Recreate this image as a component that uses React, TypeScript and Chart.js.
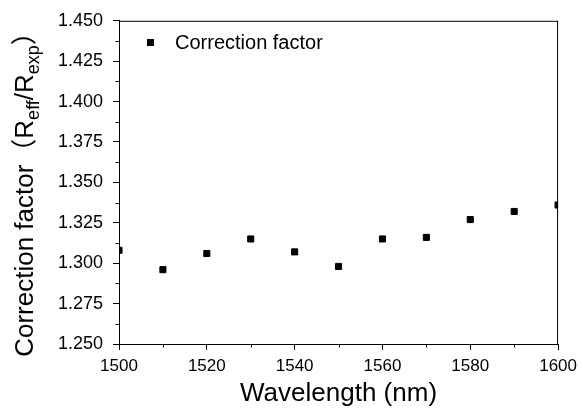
import React, { useEffect, useRef } from "react";
import { Chart, registerables } from "chart.js";

Chart.register(...registerables);

const wavelengths: number[] = [1500, 1510, 1520, 1530, 1540, 1550, 1560, 1570, 1580, 1590, 1600];
const correctionFactor: number[] = [1.308, 1.296, 1.306, 1.315, 1.307, 1.298, 1.315, 1.316, 1.327, 1.332, 1.336];
const seriesLabel = "Correction factor";
const xTitle = "Wavelength (nm)";
const yMinorTicks: number[] = [1.2625, 1.2875, 1.3125, 1.3375, 1.3625, 1.3875, 1.4125, 1.4375];
const xMinorTicks: number[] = [1510, 1530, 1550, 1570, 1590];

const FONT = '"Liberation Sans", Arial, "Noto Sans CJK SC", sans-serif';

const framePlugin = {
  id: "frameAndMinor",
  afterDraw(chart: any) {
    const { ctx, chartArea } = chart;
    const { left, right, top, bottom } = chartArea;
    const xs = chart.scales.x;
    const ys = chart.scales.y;
    ctx.save();
    ctx.strokeStyle = "#000";
    ctx.lineWidth = 1;
    ctx.beginPath();
    ctx.moveTo(left, top + 0.5);
    ctx.lineTo(right, top + 0.5);
    ctx.moveTo(right - 0.5, top);
    ctx.lineTo(right - 0.5, bottom);
    for (const v of yMinorTicks) {
      const y = Math.round(ys.getPixelForValue(v)) + 0.5;
      ctx.moveTo(left, y);
      ctx.lineTo(left - 3.5, y);
    }
    for (const v of xMinorTicks) {
      const x = Math.round(xs.getPixelForValue(v)) + 0.5;
      ctx.moveTo(x, bottom);
      ctx.lineTo(x, bottom + 3.5);
    }
    ctx.stroke();

    // legend
    ctx.fillStyle = "#000";
    ctx.fillRect(147, 39, 7, 7);
    ctx.font = `20px ${FONT}`;
    ctx.textBaseline = "middle";
    ctx.textAlign = "left";
    ctx.fillText(seriesLabel, 175, 43);

    // y title with subscripts
    const big = `26px ${FONT}`;
    const small = `18px ${FONT}`;
    const parts: { t: string; f: string; dy: number }[] = [
      { t: "Correction factor（R", f: big, dy: 0 },
      { t: "eff", f: small, dy: 6 },
      { t: "/R", f: big, dy: 0 },
      { t: "exp", f: small, dy: 6 },
      { t: "）", f: big, dy: 0 },
    ];
    let total = 0;
    for (const p of parts) {
      ctx.font = p.f;
      total += ctx.measureText(p.t).width;
    }
    ctx.translate(33, 188);
    ctx.rotate(-Math.PI / 2);
    ctx.textBaseline = "alphabetic";
    let cx = -total / 2;
    for (const p of parts) {
      ctx.font = p.f;
      ctx.fillText(p.t, cx, p.dy);
      cx += ctx.measureText(p.t).width;
    }
    ctx.restore();
  },
};

export default function App() {
  const ref = useRef<HTMLCanvasElement | null>(null);
  useEffect(() => {
    if (!ref.current) return;
    const chart = new Chart(ref.current, {
      type: "scatter",
      data: {
        datasets: [
          {
            label: seriesLabel,
            data: wavelengths.map((w, i) => ({ x: w, y: correctionFactor[i] })),
            pointStyle: "rect",
            pointRadius: 4.3,
            pointBorderWidth: 1,
            backgroundColor: "#000",
            borderColor: "#000",
          },
        ],
      },
      options: {
        animation: false,
        responsive: false,
        devicePixelRatio: 1,
        layout: { padding: { left: 0, right: 23, top: 18, bottom: 0 } },
        plugins: { legend: { display: false }, tooltip: { enabled: false } },
        scales: {
          x: {
            type: "linear",
            min: 1500,
            max: 1600,
            afterFit: (s: any) => {
              s.height = 67;
            },
            ticks: {
              stepSize: 20,
              color: "#000",
              padding: 6,
              maxRotation: 0,
              font: { family: FONT, size: 17 },
              callback: (v: any) => String(v),
            },
            grid: {
              drawOnChartArea: false,
              drawTicks: true,
              tickLength: 6,
              color: "#000",
            },
            border: { display: true, color: "#000", width: 1 },
            title: {
              display: true,
              text: xTitle,
              color: "#000",
              font: { family: FONT, size: 26 },
              padding: { top: 0, bottom: 2 },
            },
          },
          y: {
            type: "linear",
            min: 1.25,
            max: 1.45,
            afterFit: (s: any) => {
              s.width = 119;
            },
            ticks: {
              stepSize: 0.025,
              color: "#000",
              padding: 10,
              font: { family: FONT, size: 18 },
              callback: (v: any) => Number(v).toFixed(3),
            },
            grid: {
              drawOnChartArea: false,
              drawTicks: true,
              tickLength: 6,
              color: "#000",
            },
            border: { display: true, color: "#000", width: 1 },
          },
        },
      },
      plugins: [framePlugin],
    });
    return () => chart.destroy();
  }, []);
  return (
    <div style={{ position: "fixed", left: 0, top: 0, width: 583, height: 411, background: "#fff" }}>
      <canvas ref={ref} width={583} height={411} style={{ width: 583, height: 411, display: "block" }} />
    </div>
  );
}
